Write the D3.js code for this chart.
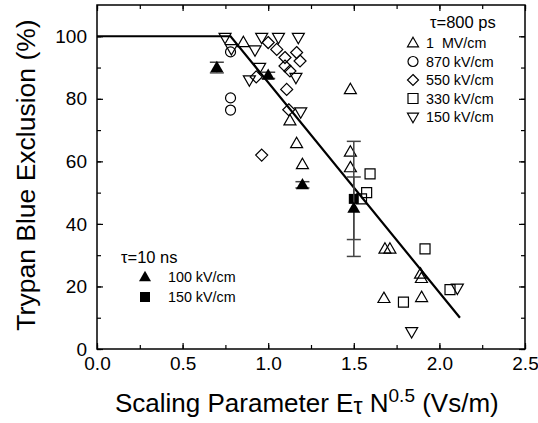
<!DOCTYPE html>
<html><head><meta charset="utf-8">
<script src="https://cdn.jsdelivr.net/npm/d3@7"></script>
<style>body{margin:0;background:#fff}text{font-family:Arial,"Liberation Sans",sans-serif;fill:#000}</style>
</head><body><svg id="c" width="538" height="423"></svg>
<script>
// ---- data ----
const xTicks = [0.0, 0.5, 1.0, 1.5, 2.0, 2.5];
const yTicks = [0, 20, 40, 60, 80, 100];
const fitLine = [[0, 100], [0.78, 100], [2.12, 10]];
const s1MV = [[1.127,73],[1.166,65.7],[1.2,59],[1.48,83],[1.48,63],[1.48,58],[1.682,32],[1.711,32],[1.89,24],[1.895,22.6],[1.676,16.2],[1.896,16.5],[0.855,98]];
const s870 = [[0.78,95],[0.78,80.3],[0.78,76.4]];
const s550 = [[1.0,98],[1.05,95.8],[1.098,93.2],[1.166,94.8],[1.186,92.1],[1.098,90.5],[1.127,88.9],[1.108,83],[1.12,76.5],[0.962,62],[0.93,87]];
const s330 = [[1.595,56],[1.575,50],[1.545,48],[1.916,32],[2.062,19],[1.79,15]];
const s150 = [[0.748,99.6],[0.785,96],[0.923,95.6],[0.962,99.6],[1.06,99.6],[1.176,99.6],[1.162,86.8],[0.89,86],[0.95,90],[1.19,75.8],[2.105,19.4],[1.838,5.5]];
const ns100 = [[0.70,90,1.7],[1.0,87.5,1],[1.2,52.5,1],[1.5,45,10]];
const ns150 = [[1.5,48,18.4]];
const legend800 = ["1  MV/cm","870 kV/cm","550 kV/cm","330 kV/cm","150 kV/cm"];
const legend10 = ["100 kV/cm","150 kV/cm"];

// ---- layout ----
const W=538,H=423, m={l:97,t:5,r:13,b:74};
const svg=d3.select("#c");
const x=d3.scaleLinear().domain([0,2.5]).range([m.l,W-m.r]);
const y=d3.scaleLinear().domain([0,110]).range([H-m.b,m.t]);

const shapes={
  up:(s)=>{const h=s*0.866;return `M0,${-h*0.6}L${s/2},${h*0.4}L${-s/2},${h*0.4}Z`;},
  down:(s)=>{const h=s*0.866;return `M0,${h*0.6}L${s/2},${-h*0.4}L${-s/2},${-h*0.4}Z`;},
  circle:(s)=>{const r=s/2;return `M${r},0A${r},${r},0,1,1,${-r},0A${r},${r},0,1,1,${r},0Z`;},
  diamond:(s)=>{const r=s/2;return `M0,${-r}L${r},0L0,${r}L${-r},0Z`;},
  square:(s)=>{const r=s/2;return `M${-r},${-r}H${r}V${r}H${-r}Z`;}
};

// axes (inward ticks on all sides)
function ax(axis,tr){return svg.append("g").attr("transform",tr).call(axis).call(g=>{g.select(".domain").remove();g.selectAll("line").attr("stroke","#000").attr("stroke-width",1.2);});}
const xMinor=d3.range(0,2.51,0.25), yMinor=d3.range(0,110,10);
ax(d3.axisBottom(x).tickValues(xMinor).tickSize(-4).tickFormat(""),`translate(0,${H-m.b})`);
ax(d3.axisTop(x).tickValues(xMinor).tickSize(-4).tickFormat(""),`translate(0,${m.t})`);
ax(d3.axisLeft(y).tickValues(yMinor).tickSize(-4).tickFormat(""),`translate(${m.l},0)`);
ax(d3.axisRight(y).tickValues(yMinor).tickSize(-4).tickFormat(""),`translate(${W-m.r},0)`);
const gx=ax(d3.axisBottom(x).tickValues(xTicks).tickSize(-6).tickPadding(10).tickFormat(d3.format(".1f")),`translate(0,${H-m.b})`);
gx.selectAll("text").attr("font-size",19).attr("font-family","Arial, Liberation Sans, sans-serif");
const gy=ax(d3.axisLeft(y).tickValues(yTicks).tickSize(-6).tickPadding(10).tickFormat(d3.format("d")),`translate(${m.l},0)`);
gy.selectAll("text").attr("font-size",19).attr("font-family","Arial, Liberation Sans, sans-serif");
ax(d3.axisTop(x).tickValues(xTicks).tickSize(-6).tickFormat(""),`translate(0,${m.t})`);
ax(d3.axisRight(y).tickValues(yTicks).tickSize(-6).tickFormat(""),`translate(${W-m.r},0)`);
gx.selectAll("text").attr("dy","0.6em");

svg.append("rect").attr("x",m.l).attr("y",m.t).attr("width",W-m.l-m.r).attr("height",H-m.t-m.b)
  .attr("fill","none").attr("stroke","#000").attr("stroke-width",1.5);

// fit line
svg.append("path").datum(fitLine).attr("d",d3.line().x(d=>x(d[0])).y(d=>y(d[1])))
  .attr("fill","none").attr("stroke","#000").attr("stroke-width",2.2);

// hollow series
function hollow(data,shape,size){
  svg.append("g").selectAll("path").data(data).join("path")
   .attr("transform",d=>`translate(${x(d[0])},${y(d[1])})`).attr("d",shapes[shape](size))
   .attr("fill","none").attr("stroke","#000").attr("stroke-width",1.2);
}
hollow(s1MV,"up",12);
hollow(s870,"circle",10);
hollow(s550,"diamond",12);
hollow(s330,"square",10);
hollow(s150,"down",12);

// filled series with error bars
function filled(data,shape,size){
  const g=svg.append("g");
  data.forEach(d=>{
    const cx=x(d[0]),y1=y(d[1]+d[2]),y2=y(d[1]-d[2]);
    g.append("line").attr("x1",cx).attr("x2",cx).attr("y1",y1).attr("y2",y2).attr("stroke","#444").attr("stroke-width",1.5);
    [y1,y2].forEach(yy=>g.append("line").attr("x1",cx-7).attr("x2",cx+7).attr("y1",yy).attr("y2",yy).attr("stroke","#444").attr("stroke-width",1.5));
  });
  g.selectAll("path").data(data).join("path")
   .attr("transform",d=>`translate(${x(d[0])},${y(d[1])})`).attr("d",shapes[shape](size)).attr("fill","#000");
}
filled(ns150,"square",10);
filled(ns100,"up",13);

// legends
const lg=svg.append("g");
lg.append("text").attr("x",430).attr("y",28).attr("font-size",16.5).text("τ=800 ps");
const lshapes=["up","circle","diamond","square","down"];
legend800.forEach((t,i)=>{
  const yy=43+i*18.5;
  lg.append("path").attr("transform",`translate(413,${yy})`).attr("d",shapes[lshapes[i]](lshapes[i]==="circle"||lshapes[i]==="square"?10:11)).attr("fill","none").attr("stroke","#000").attr("stroke-width",1.2);
  lg.append("text").attr("x",426).attr("y",yy+5).attr("font-size",14.3).attr("xml:space","preserve").style("white-space","pre").text(t);
});
lg.append("text").attr("x",121).attr("y",263).attr("font-size",16.5).text("τ=10 ns");
["up","square"].forEach((s,i)=>{
  const yy=277+i*20;
  lg.append("path").attr("transform",`translate(145,${yy})`).attr("d",shapes[s](s==="up"?12:10)).attr("fill","#000");
  lg.append("text").attr("x",168).attr("y",yy+5).attr("font-size",14.3).text(legend10[i]);
});

// axis titles
svg.append("text").attr("transform","translate(35,175) rotate(-90)").attr("text-anchor","middle").attr("font-size",26.5).text("Trypan Blue Exclusion (%)");
const xt=svg.append("text").attr("x",115).attr("y",412).attr("font-size",26).attr("xml:space","preserve").style("white-space","pre");
xt.append("tspan").text("Scaling Parameter E");
xt.append("tspan").attr("font-size",23).attr("dy",2).text("τ");
xt.append("tspan").attr("dy",-2).text(" N");
xt.append("tspan").attr("font-size",19).attr("dy",-10).text("0.5");
xt.append("tspan").attr("dy",10).text(" (Vs/m)");
</script></body></html>
